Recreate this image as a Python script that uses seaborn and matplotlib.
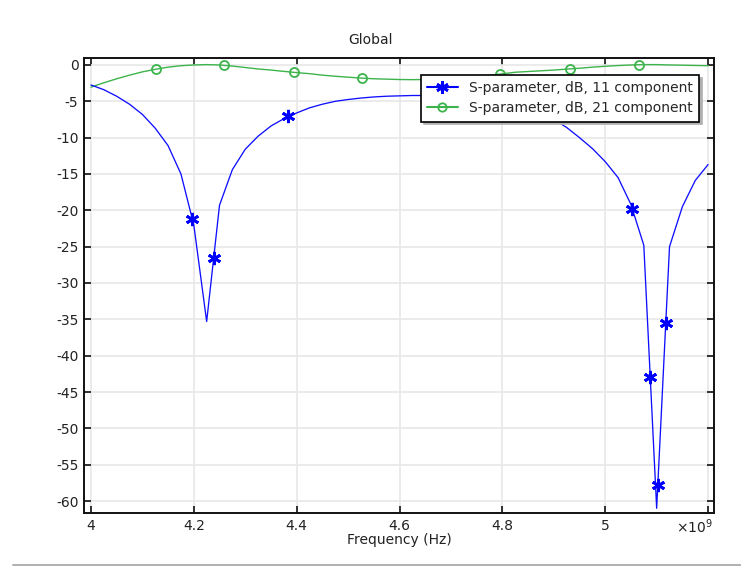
import numpy as np
import pandas as pd
import matplotlib
matplotlib.use("Agg")
import matplotlib.pyplot as plt
import seaborn as sns
from matplotlib.lines import Line2D
from matplotlib.ticker import MultipleLocator

# ---- data (frequency in GHz, values in dB) ----
freq_ghz = [4.0, 4.025, 4.05, 4.075, 4.1, 4.125, 4.15, 4.175, 4.2, 4.225,
            4.25, 4.275, 4.3, 4.325, 4.35, 4.375, 4.4, 4.425, 4.45, 4.475,
            4.5, 4.525, 4.55, 4.575, 4.6, 4.625, 4.65, 4.675, 4.7, 4.725,
            4.75, 4.775, 4.8, 4.825, 4.85, 4.875, 4.9, 4.925, 4.95, 4.975,
            5.0, 5.025, 5.05, 5.075, 5.1, 5.125, 5.15, 5.175, 5.2]
s11_db = [-2.75, -3.4, -4.3, -5.4, -6.8, -8.7, -11.1, -15.0, -22.0, -35.3,
          -19.3, -14.4, -11.6, -9.8, -8.4, -7.4, -6.6, -5.9, -5.4, -5.0,
          -4.75, -4.55, -4.4, -4.3, -4.25, -4.2, -4.2, -4.25, -4.3, -4.4,
          -4.55, -4.75, -5.0, -5.4, -5.9, -6.6, -7.5, -8.6, -10.0, -11.5,
          -13.3, -15.5, -19.2, -24.8, -61.0, -25.0, -19.5, -15.9, -13.7]
s21_db = [-3.05, -2.45, -1.9, -1.4, -0.95, -0.6, -0.3, -0.1, 0.0, 0.05,
          0.0, -0.15, -0.35, -0.55, -0.7, -0.88, -1.05, -1.2, -1.4, -1.55,
          -1.68, -1.8, -1.9, -1.95, -2.0, -2.02, -2.0, -1.95, -1.85, -1.72,
          -1.57, -1.42, -1.22, -1.0, -0.9, -0.8, -0.7, -0.57, -0.45, -0.3,
          -0.18, -0.08, 0.0, 0.05, 0.05, 0.0, -0.03, -0.07, -0.1]

# marker positions along the curves
s11_mark_f = [4.197, 4.239, 4.384, 5.053, 5.0875, 5.1022, 5.1177]
s11_mark_db = [-21.2, -26.5, -7.0, -19.8, -42.9, -57.8, -35.5]
s21_mark_f = [4.127, 4.259, 4.394, 4.528, 4.662, 4.796, 4.931, 5.065]
s21_mark_db = [-0.6, 0.0, -1.0, -1.8, -2.0, -1.24, -0.55, 0.05]

x_tick_labels = ["4", "4.2", "4.4", "4.6", "4.8", "5", ""]
labels = ["S-parameter, dB, 11 component", "S-parameter, dB, 21 component"]
title = "Global"
xlabel = "Frequency (Hz)"

BLUE = "#1010ff"
GREEN = "#3cb44b"
FS = 10

sns.set_style("whitegrid")
plt.rcParams["font.family"] = ["DejaVu Sans"]
plt.rcParams["axes.unicode_minus"] = False

df = pd.DataFrame({"f": np.array(freq_ghz) * 1e9, "s11": s11_db, "s21": s21_db})
m11 = pd.DataFrame({"f": np.array(s11_mark_f) * 1e9, "v": s11_mark_db})
m21 = pd.DataFrame({"f": np.array(s21_mark_f) * 1e9, "v": s21_mark_db})

fig = plt.figure(figsize=(7.41, 5.66), dpi=100)
ax = fig.add_axes([84 / 741, 53 / 566, 630 / 741, 455 / 566])

sns.lineplot(data=df, x="f", y="s21", ax=ax, color=GREEN, lw=1.0, zorder=3)
sns.lineplot(data=df, x="f", y="s11", ax=ax, color=BLUE, lw=0.95, zorder=3)
ax.plot(m21["f"], m21["v"], ls="none", marker="o", ms=6.5, mfc="none",
        mec=GREEN, mew=1.3, zorder=4)
ax.plot(m11["f"], m11["v"], ls="none", marker=(6, 2, 0), ms=9.5,
        mec="#0000ff", mfc="#0000ff", mew=2.0, zorder=4)

ax.set_xlim(3.9865e9, 5.2115e9)
ax.set_ylim(-61.65, 0.96)
xt = np.arange(len(x_tick_labels)) * 0.2e9 + 4.0e9
ax.set_xticks(xt)
ax.set_xticklabels(x_tick_labels)
ax.yaxis.set_major_locator(MultipleLocator(5))

ax.grid(True, color="#e8e8e8", lw=1.2)
for s in ax.spines.values():
    s.set_visible(True)
    s.set_color("#111111")
    s.set_linewidth(1.4)
ax.tick_params(axis="both", which="both", direction="in", length=5, width=1.2,
               color="#111111", top=True, right=True, bottom=True, left=True,
               labelsize=FS, pad=4, labelcolor="#222222")
ax.set_xlabel(xlabel, fontsize=FS, labelpad=0, color="#222222")
ax.set_ylabel("")
fig.text(0.5, 1 - 40 / 566, title, ha="center", va="center", fontsize=FS,
         color="#222222")
ax.text(0.999, -0.009, r"$\times$10$^9$", transform=ax.transAxes, ha="right",
        va="top", fontsize=FS, color="#222222")

handles = [
    Line2D([], [], color="#0000ff", lw=1.5, marker=(6, 2, 0), ms=9, mew=2.0),
    Line2D([], [], color=GREEN, lw=1.5, marker="o", ms=6, mfc="none", mew=1.3),
]
leg = ax.legend(handles, labels, loc="upper right", bbox_to_anchor=(0.976, 0.963),
                borderaxespad=0, fontsize=10, frameon=True, fancybox=False,
                shadow={"color": "#b0b0b0", "alpha": 1.0}, edgecolor="black",
                framealpha=1, handlelength=2.2, borderpad=0.45, labelspacing=0.45)
leg.get_frame().set_linewidth(1.2)
leg.set_zorder(10)

fig.add_artist(Line2D([13 / 741, 1.0], [1.5 / 566, 1.5 / 566], color="#aaaaaa",
                      lw=1.3, transform=fig.transFigure))

fig.savefig("out.png", dpi=100)
